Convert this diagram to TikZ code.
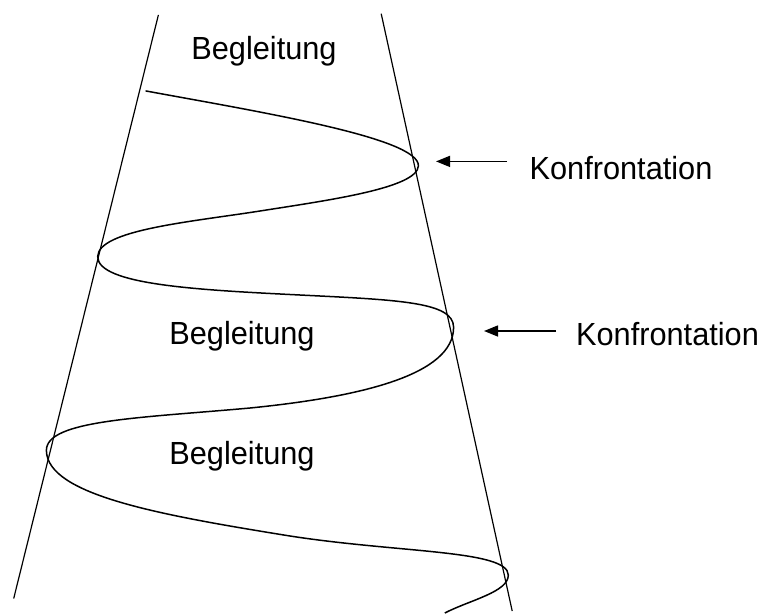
\documentclass[tikz,border=0pt]{standalone}
\usepackage{fontspec}
\setmainfont{Liberation Sans}
\usetikzlibrary{arrows.meta}
\begin{document}
\begin{tikzpicture}[x=1pt,y=-1pt,
  lbl/.style={font=\fontsize{32}{36}\selectfont, inner sep=0pt, anchor=base, xscale=0.96},
  side/.style={line width=1.2pt},
  wave/.style={line width=1.5pt},
  pointer/.style={line width=1.5pt, -{Triangle[length=14pt,width=11pt]}}]
\useasboundingbox (0,0) rectangle (765,613);
% cone sides
\draw[side] (158.4,14.9) -- (13.7,598.5);
\draw[side] (381.2,13.7) -- (512.2,611);
% spiral
\draw[wave] (145.6,90.9)
  .. controls (260,112) and (420,138) .. (418.4,166)
  .. controls (417,188) and (330,200) .. (260,211)
  .. controls (190,222) and (98,230) .. (97.7,256.6)
  .. controls (97.5,285) and (200,290) .. (300,295)
  .. controls (400,300) and (453,302) .. (453.6,327)
  .. controls (454,375) and (360,397) .. (250,408)
  .. controls (140,418) and (46,420) .. (46.4,450.5)
  .. controls (47,495) and (160,515) .. (290,536)
  .. controls (400,553) and (508,550) .. (508.3,575)
  .. controls (508.5,592) and (470,600) .. (444.8,613);
% labels
\node[lbl] (b1) at (264,59.3) {Begleitung};
\node[lbl] (b2) at (242,344) {Begleitung};
\node[lbl] (b3) at (242,464) {Begleitung};
\node[lbl] (k1) at (621,179.3) {Konfrontation};
\node[lbl] (k2) at (667.5,345) {Konfrontation};
\coordinate (a1s) at (507,161.4);
\coordinate (a1e) at (436,161.4);
\coordinate (a2s) at (556,331);
\coordinate (a2e) at (484,331);
\draw[pointer] (a1s) -- (a1e);
\draw[pointer] (a2s) -- (a2e);
\end{tikzpicture}
\end{document}
